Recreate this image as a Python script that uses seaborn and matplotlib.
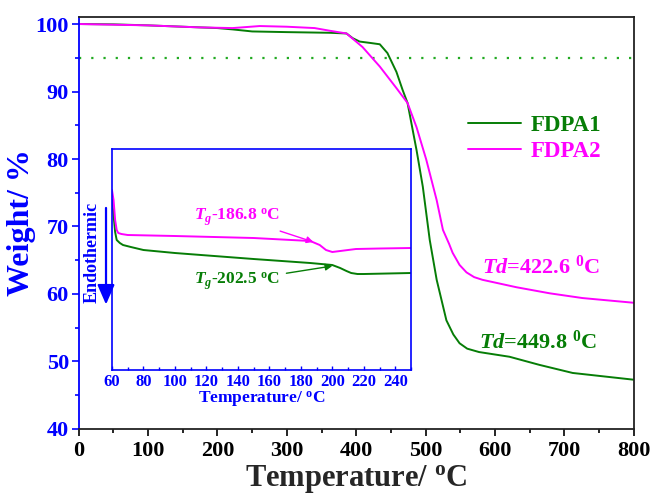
import matplotlib
matplotlib.use("Agg")
import matplotlib.pyplot as plt
import seaborn as sns
import pandas as pd
from matplotlib.lines import Line2D
from matplotlib.ticker import MultipleLocator

# TGA curves (main panel)
fdpa1_temp = [0, 50, 100, 150, 200, 222, 250, 300, 362, 386, 395, 405, 420, 434, 445,
              458, 467, 474, 487, 496, 506, 516, 530, 540, 549, 560, 577, 621, 664, 712, 800]
fdpa1_weight = [100, 99.95, 99.8, 99.6, 99.4, 99.2, 98.9, 98.8, 98.7, 98.6, 97.9, 97.4, 97.2, 97.0, 95.7,
                92.9, 90.2, 88.3, 81.3, 75.9, 68.0, 62.1, 56.1, 54.0, 52.7, 51.9, 51.4, 50.7, 49.5, 48.3, 47.3]

fdpa2_temp = [0, 100, 174, 222, 261, 300, 340, 362, 386, 409, 434, 458, 474, 487,
              501, 516, 525, 534, 539, 549, 559, 570, 582, 631, 679, 726, 800]
fdpa2_weight = [100, 99.8, 99.5, 99.4, 99.7, 99.6, 99.4, 99.0, 98.6, 96.6, 93.7, 90.5, 88.3, 84.7,
                79.9, 73.9, 69.5, 67.4, 66.1, 64.3, 63.2, 62.5, 62.1, 61.0, 60.1, 59.4, 58.7]

# DSC curves (inset), heat flow in arbitrary units
dsc1_temp = [60, 61, 62, 63, 65, 67, 72, 80, 100, 150, 186, 200, 205, 209, 212, 216, 220, 250]
dsc1_flow = [17.0, 15.5, 13.8, 13.0, 12.7, 12.5, 12.3, 12.0, 11.7, 11.1, 10.7, 10.5, 10.2, 9.9, 9.7, 9.6, 9.6, 9.7]

dsc2_temp = [60, 61, 62, 63, 64, 66, 70, 100, 150, 186, 192, 196, 200, 205, 215, 230, 250]
dsc2_flow = [18.0, 17.0, 15.0, 14.0, 13.7, 13.6, 13.5, 13.4, 13.2, 12.9, 12.5, 12.0, 11.8, 11.9, 12.1, 12.15, 12.2]

GREEN = '#067d06'
MAGENTA = '#ff00ff'
BLUE = '#0000ff'

sns.set_style('ticks')
plt.rcParams['font.family'] = ['Liberation Serif', 'DejaVu Serif']
plt.rcParams['font.weight'] = 'bold'
plt.rcParams['mathtext.fontset'] = 'custom'
plt.rcParams['mathtext.rm'] = 'Liberation Serif:bold'
plt.rcParams['mathtext.it'] = 'Liberation Serif:italic:bold'
plt.rcParams['mathtext.bf'] = 'Liberation Serif:bold'

tga1 = pd.DataFrame({'temp': fdpa1_temp, 'weight': fdpa1_weight})
tga2 = pd.DataFrame({'temp': fdpa2_temp, 'weight': fdpa2_weight})
dsc1 = pd.DataFrame({'temp': dsc1_temp, 'flow': dsc1_flow})
dsc2 = pd.DataFrame({'temp': dsc2_temp, 'flow': dsc2_flow})

fig = plt.figure(figsize=(6.56, 4.98), dpi=100)
ax = fig.add_axes([0.120, 0.1386, 0.846, 0.8274])

ax.axhline(95, color='#22aa22', lw=1.6, linestyle=(0, (1, 4.5)))
sns.lineplot(data=tga1, x='temp', y='weight', color=GREEN, lw=1.4, ax=ax)
sns.lineplot(data=tga2, x='temp', y='weight', color=MAGENTA, lw=1.4, ax=ax)

ax.set_xlim(0, 800)
ax.set_ylim(40, 101.05)
ax.xaxis.set_major_locator(MultipleLocator(100))
ax.xaxis.set_minor_locator(MultipleLocator(50))
ax.yaxis.set_major_locator(MultipleLocator(10))
ax.yaxis.set_minor_locator(MultipleLocator(5))
ax.tick_params(axis='both', which='major', direction='out', length=5, width=1.2, labelsize=16)
ax.tick_params(axis='both', which='minor', direction='out', length=3, width=1.2)
ax.tick_params(axis='y', which='both', colors=BLUE, labelcolor=BLUE, pad=2)
ax.tick_params(axis='x', which='both', colors='black', pad=4)
for s in ax.spines.values():
    s.set_linewidth(1.3)
    s.set_color('#222222')
ax.spines['left'].set_color(BLUE)

ax.set_xlabel(r'Temperature/ $^\mathrm{o}$C', fontsize=22, fontweight='bold', labelpad=1)
ax.set_ylabel('Weight/ %', fontsize=23, fontweight='bold', color=BLUE, labelpad=0)

handles = [Line2D([], [], color=GREEN, lw=1.4), Line2D([], [], color=MAGENTA, lw=1.4)]
leg = ax.legend(handles, ['FDPA1', 'FDPA2'], loc='center left', bbox_to_anchor=(0.665, 0.705),
                frameon=False, fontsize=16.5, handlelength=2.3, handletextpad=0.4, labelspacing=0.25)
for t, c in zip(leg.get_texts(), [GREEN, MAGENTA]):
    t.set_color(c)

ax.text(582, 64.0, r'$\mathit{Td}$=422.6 $^\mathrm{0}$C', color=MAGENTA, fontsize=16,
        ha='left', va='center')
ax.text(577, 52.9, r'$\mathit{Td}$=449.8 $^\mathrm{0}$C', color=GREEN, fontsize=16,
        ha='left', va='center')

# inset DSC
ins = fig.add_axes([0.1707, 0.257, 0.4558, 0.4438])
ins.set_facecolor('white')
sns.lineplot(data=dsc1, x='temp', y='flow', color=GREEN, lw=1.4, ax=ins)
sns.lineplot(data=dsc2, x='temp', y='flow', color=MAGENTA, lw=1.4, ax=ins)
ins.set_xlim(60, 250)
ins.set_ylim(0, 22.1)
ins.xaxis.set_major_locator(MultipleLocator(20))
ins.xaxis.set_minor_locator(MultipleLocator(10))
ins.set_yticks([])
ins.tick_params(axis='x', which='major', direction='in', length=3, width=1, colors=BLUE,
                labelcolor=BLUE, labelsize=12, pad=3)
ins.tick_params(axis='x', which='minor', direction='in', length=2, width=1, colors=BLUE)
for s in ins.spines.values():
    s.set_color(BLUE)
    s.set_linewidth(1.2)
ins.set_xlabel(r'Temperature/ $^\mathrm{o}$C', fontsize=12.5, fontweight='bold', color=BLUE, labelpad=0)
ins.set_ylabel('')

ins.annotate(r'$\mathit{T_g}$-186.8 $^\mathrm{o}$C', xy=(188, 12.8), xytext=(167, 15.3),
             color=MAGENTA, fontsize=12.5, ha='right', va='center',
             arrowprops=dict(arrowstyle='-|>', color=MAGENTA, lw=1, mutation_scale=10,
                             shrinkA=0, shrinkB=0))
ins.annotate(r'$\mathit{T_g}$-202.5 $^\mathrm{o}$C', xy=(200, 10.4), xytext=(167, 8.9),
             color=GREEN, fontsize=12.5, ha='right', va='center',
             arrowprops=dict(arrowstyle='-|>', color=GREEN, lw=1, mutation_scale=10,
                             shrinkA=2, shrinkB=0))

fig.text(0.140, 0.494, 'Endothermic', rotation=90, color=BLUE, fontsize=13,
         fontweight='bold', ha='center', va='center')
fig.patches.append(matplotlib.patches.FancyArrowPatch(
    (0.1616, 0.588), (0.1616, 0.383), transform=fig.transFigure,
    arrowstyle='-|>,head_length=0.8,head_width=0.35', mutation_scale=15,
    color=BLUE, lw=1.6))

fig.savefig('out.png', dpi=100)
